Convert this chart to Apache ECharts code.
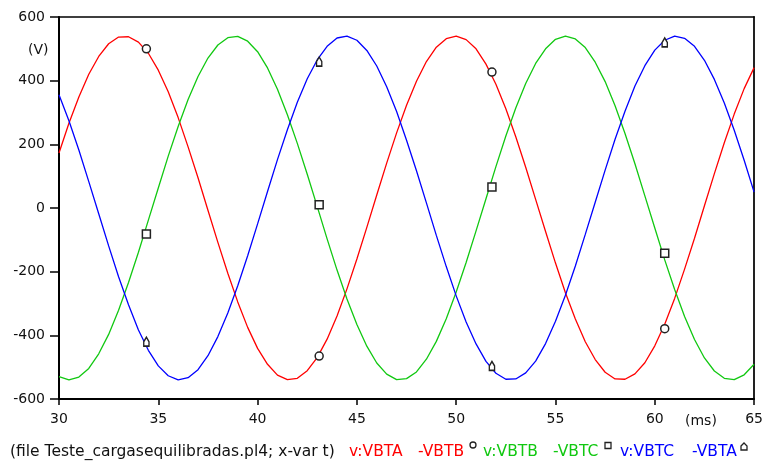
<!DOCTYPE html>
<html>
<head>
<meta charset="utf-8">
<title>Teste_cargasequilibradas.pl4</title>
<script src="https://cdn.jsdelivr.net/npm/echarts@6/dist/echarts.min.js"></script>
<style>
  html, body { margin: 0; padding: 0; background: #fff; }
  #chart { width: 766px; height: 466px; }
</style>
</head>
<body>
<div id="chart"></div>
<script>
// Sample times (ms)
const timeMs = [30,30.5,31,31.5,32,32.5,33,33.5,34,34.5,35,35.5,36,36.5,37,37.5,38,38.5,39,39.5,
  40,40.5,41,41.5,42,42.5,43,43.5,44,44.5,45,45.5,46,46.5,47,47.5,48,48.5,49,49.5,
  50,50.5,51,51.5,52,52.5,53,53.5,54,54.5,55,55.5,56,56.5,57,57.5,58,58.5,59,59.5,
  60,60.5,61,61.5,62,62.5,63,63.5,64,64.5,65];

// Line voltages (V)
const vVBTA_VBTB = [173,266,349,420,476,516,537,538,521,486,433,365,284,192,95,-7,-108,-205,-295,-375,
  -441,-491,-525,-539,-535,-511,-470,-412,-339,-254,-160,-61,41,141,236,323,398,460,505,532,
  540,529,500,452,389,312,224,128,27,-74,-173,-266,-349,-420,-476,-516,-537,-538,-521,-486,
  -433,-365,-284,-192,-95,7,108,205,295,375,441];
const vVBTB_VBTC = [-530,-540,-531,-504,-458,-397,-321,-234,-139,-38,63,163,256,341,413,471,512,535,539,524,
  491,440,373,293,203,106,5,-97,-195,-286,-366,-434,-487,-522,-539,-536,-515,-475,-419,-348,
  -264,-171,-72,29,130,226,314,391,454,500,530,540,531,504,458,397,321,234,139,38,
  -63,-163,-256,-341,-413,-471,-512,-535,-539,-524,-491];
const vVBTC_VBTA = [356,274,182,83,-18,-119,-216,-304,-383,-447,-496,-527,-540,-533,-508,-464,-404,-330,-244,-150,
  -50,52,152,246,332,406,465,508,534,540,527,495,446,381,303,213,117,16,-86,-184,
  -276,-358,-427,-482,-519,-538,-537,-518,-481,-426,-356,-274,-182,-83,18,119,216,304,383,447,
  496,527,540,533,508,464,404,330,244,150,50];

// Marker points of each trace
const markerTimes = [34.4, 43.1, 51.8, 60.5];
const markVBTA_VBTB = [500, -465, 427, -379];
const markVBTB_VBTC = [-82, 10, 66, -142];
const markVBTC_VBTA = [-420, 460, -496, 520];

// Axis ranges / ticks
const xRange = [30, 65], xStep = 5;
const yRange = [-600, 600], yStep = 200;

// Footer caption
const fileCaption = '(file Teste_cargasequilibradas.pl4; x-var t)';
const traceNames = ['v:VBTA', '-VBTB', 'v:VBTB', '-VBTC', 'v:VBTC', '-VBTA'];

const RED = '#ff0000', GREEN = '#11c811', BLUE = '#0000ff';
const FONT = 'DejaVu Sans';
// small "house" shaped marker used for the third trace
const TRI = 'path://M1,5 L4,1 L7,5 L7,9 L1,9 Z';

function pairs(xs, ys) { return xs.map((x, i) => [x, ys[i]]); }

const chart = echarts.init(document.getElementById('chart'), null, { renderer: 'canvas' });

function lineSeries(name, values, color) {
  return {
    name, type: 'line', data: pairs(timeMs, values),
    showSymbol: false, smooth: false, silent: true,
    lineStyle: { color, width: 1.3 }, z: 2
  };
}
function markSeries(name, values, symbol, size) {
  return {
    name, type: 'scatter', data: pairs(markerTimes, values),
    symbol, symbolSize: size, symbolKeepAspect: true, silent: true,
    itemStyle: { color: '#fff', borderColor: '#222', borderWidth: 1.5, opacity: 1 }, z: 5
  };
}

const legendFont = '15.5px "' + FONT + '"';
const legendY = 452;
function txt(x, y, text, fill, font) {
  return { type: 'text', x, y, silent: true,
    style: { text, fill, font: font || legendFont, verticalAlign: 'middle', textAlign: 'left' } };
}

chart.setOption({
  animation: false,
  backgroundColor: '#fff',
  grid: { left: 59, top: 17, width: 696, height: 382, containLabel: false },
  xAxis: [{
    type: 'value', min: xRange[0], max: xRange[1], interval: xStep, position: 'bottom',
    axisLine: { show: true, onZero: false, lineStyle: { color: '#000', width: 2 } },
    axisTick: { show: true, length: 6, lineStyle: { color: '#000', width: 1.5 } },
    axisLabel: { color: '#111', fontSize: 14, fontFamily: FONT, margin: 13 },
    splitLine: { show: false }
  }, {
    type: 'value', min: xRange[0], max: xRange[1], position: 'top',
    axisLine: { show: true, onZero: false, lineStyle: { color: '#000', width: 1.5 } },
    axisTick: { show: false }, axisLabel: { show: false }, splitLine: { show: false }
  }],
  yAxis: [{
    type: 'value', min: yRange[0], max: yRange[1], interval: yStep, position: 'left',
    axisLine: { show: true, onZero: false, lineStyle: { color: '#000', width: 2 } },
    axisTick: { show: true, length: 9, lineStyle: { color: '#000', width: 1.5 } },
    axisLabel: { color: '#111', fontSize: 14, fontFamily: FONT, margin: 14 },
    splitLine: { show: false }
  }, {
    type: 'value', min: yRange[0], max: yRange[1], position: 'right',
    axisLine: { show: true, onZero: false, lineStyle: { color: '#222', width: 2 } },
    axisTick: { show: false }, axisLabel: { show: false }, splitLine: { show: false }
  }],
  series: [
    lineSeries('v:VBTA-VBTB', vVBTA_VBTB, RED),
    lineSeries('v:VBTB-VBTC', vVBTB_VBTC, GREEN),
    lineSeries('v:VBTC-VBTA', vVBTC_VBTA, BLUE),
    markSeries('m1', markVBTA_VBTB, 'circle', 8),
    markSeries('m2', markVBTB_VBTC, 'rect', 8),
    markSeries('m3', markVBTC_VBTA, TRI, [7, 9])
  ],
  graphic: [
    txt(28, 50, '(V)', '#111', '14px "' + FONT + '"'),
    txt(685, 421, '(ms)', '#111', '14px "' + FONT + '"'),
    txt(10, legendY, fileCaption, '#111'),
    txt(349, legendY, traceNames[0], RED),
    txt(418, legendY, traceNames[1], RED),
    { type: 'circle', shape: { cx: 473, cy: 445, r: 3 }, silent: true,
      style: { fill: '#fff', stroke: '#222', lineWidth: 1.3 } },
    txt(483, legendY, traceNames[2], GREEN),
    txt(553, legendY, traceNames[3], GREEN),
    { type: 'rect', shape: { x: 605, y: 442.5, width: 6, height: 6 }, silent: true,
      style: { fill: '#fff', stroke: '#222', lineWidth: 1.3 } },
    txt(620, legendY, traceNames[4], BLUE),
    txt(692, legendY, traceNames[5], BLUE),
    { type: 'polygon', shape: { points: [[741, 446], [744, 443], [747, 446], [747, 450], [741, 450]] },
      silent: true, style: { fill: '#fff', stroke: '#222', lineWidth: 1.3 } }
  ]
});
</script>
</body>
</html>
